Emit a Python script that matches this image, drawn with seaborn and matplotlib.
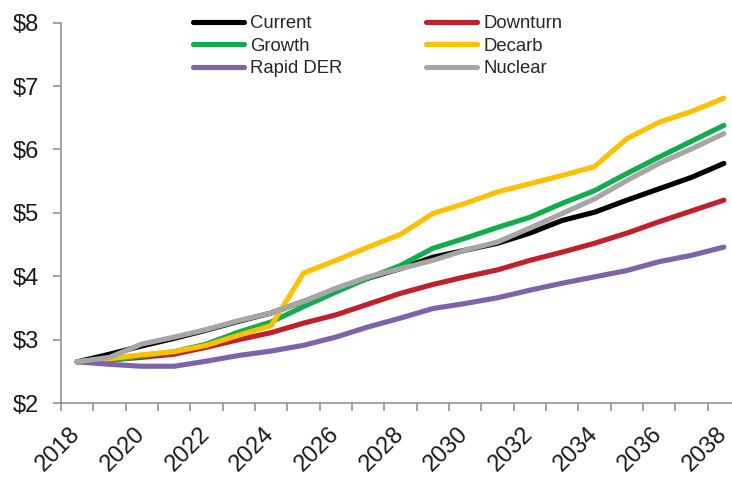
import matplotlib
matplotlib.use("Agg")
import matplotlib.pyplot as plt
import numpy as np
import pandas as pd
import seaborn as sns

# Retail rate outlook by scenario ($/unit), 2018-2038
years = list(range(2018, 2039))
current = [2.65, 2.77, 2.90, 3.02, 3.15, 3.29, 3.42, 3.60, 3.80, 3.97, 4.12,
           4.30, 4.41, 4.52, 4.68, 4.88, 5.01, 5.20, 5.38, 5.56, 5.78]
downturn = [2.65, 2.68, 2.72, 2.77, 2.88, 3.00, 3.11, 3.26, 3.39, 3.56, 3.73,
            3.87, 3.99, 4.10, 4.25, 4.38, 4.52, 4.68, 4.86, 5.03, 5.20]
growth = [2.65, 2.67, 2.74, 2.81, 2.93, 3.12, 3.28, 3.52, 3.75, 3.97, 4.17,
          4.44, 4.60, 4.77, 4.93, 5.15, 5.35, 5.62, 5.88, 6.13, 6.38]
decarb = [2.65, 2.70, 2.76, 2.81, 2.91, 3.07, 3.22, 4.05, 4.25, 4.46, 4.66,
          4.99, 5.15, 5.33, 5.46, 5.59, 5.73, 6.17, 6.43, 6.60, 6.81]
rapid_der = [2.65, 2.61, 2.58, 2.58, 2.66, 2.75, 2.82, 2.91, 3.04, 3.20, 3.34,
             3.49, 3.57, 3.66, 3.78, 3.89, 3.99, 4.09, 4.23, 4.33, 4.46]
nuclear = [2.65, 2.72, 2.93, 3.04, 3.16, 3.30, 3.42, 3.60, 3.81, 3.99, 4.12,
           4.25, 4.41, 4.54, 4.76, 4.99, 5.22, 5.51, 5.78, 6.01, 6.25]

scenarios = ["Current", "Downturn", "Growth", "Decarb", "Rapid DER", "Nuclear"]
series = [current, downturn, growth, decarb, rapid_der, nuclear]
colors = ["#000000", "#C0202A", "#12AD4B", "#FFC000", "#7F62A8", "#A6A6A6"]

y_ticks = [2, 3, 4, 5, 6, 7, 8]
y_tick_labels = ["$2", "$3", "$4", "$5", "$6", "$7", "$8"]
x_label_years = list(range(2018, 2039, 2))

df = pd.DataFrame({
    "year": np.tile(years, len(scenarios)),
    "value": np.concatenate(series),
    "scenario": np.repeat(scenarios, len(years)),
})

sns.set_style("white")
plt.rcParams["font.family"] = ["Liberation Sans", "DejaVu Sans"]

axis_grey = "#8A8A8A"
text_col = "#1A1A1A"

fig = plt.figure(figsize=(7.32, 4.78), dpi=100)
left, bottom = 61 / 732, (478 - 403) / 478
right, top = 740 / 732, (478 - 22.7) / 478
ax = fig.add_axes([left, bottom, right - left, top - bottom])

sns.lineplot(data=df, x="year", y="value", hue="scenario",
             hue_order=scenarios, palette=colors, linewidth=3.7,
             legend=False, ax=ax, solid_capstyle="round",
             solid_joinstyle="round")

ax.set_xlim(2017.5, 2038.5)
ax.set_ylim(2, 8)
ax.set_xlabel("")
ax.set_ylabel("")

# category boundaries carry the tick marks, labels sit at category centres
ax.set_xticks(np.arange(2017.5, 2039, 1.0))
ax.set_xticklabels([])
ax.set_xticks(x_label_years, [str(y) for y in x_label_years], minor=True)
ax.tick_params(axis="x", which="major", length=5.5, width=1.1,
               color=axis_grey, direction="out", bottom=True)
ax.tick_params(axis="x", which="minor", length=0, pad=20,
               labelsize=17, labelcolor=text_col, bottom=True)
for lab in ax.get_xticklabels(minor=True):
    lab.set_rotation(45)
    lab.set_ha("right")
    lab.set_va("center")
    lab.set_rotation_mode("anchor")

ax.set_yticks(y_ticks, y_tick_labels)
ax.tick_params(axis="y", length=5.8, width=1.1, color=axis_grey,
               direction="out", left=True, pad=10, labelsize=17,
               labelcolor=text_col)

for side in ["top", "right"]:
    ax.spines[side].set_visible(False)
for side in ["left", "bottom"]:
    ax.spines[side].set_color(axis_grey)
    ax.spines[side].set_linewidth(1.1)
ax.grid(False)

# legend laid out row by row: Current/Downturn, Growth/Decarb, Rapid DER/Nuclear
lines = {name: ln for name, ln in zip(scenarios, ax.get_lines())}
order = ["Current", "Growth", "Rapid DER", "Downturn", "Decarb", "Nuclear"]
leg = fig.legend([lines[n] for n in order], order, ncol=2,
                 loc="upper left", bbox_to_anchor=(193 / 732, (478 - 15) / 478),
                 frameon=False, fontsize=13.3, handlelength=2.75,
                 handletextpad=0.35, columnspacing=4.5, labelspacing=0.3,
                 borderpad=0, borderaxespad=0)
for t in leg.get_texts():
    t.set_color("#262626")

fig.savefig("out.png", dpi=100)
